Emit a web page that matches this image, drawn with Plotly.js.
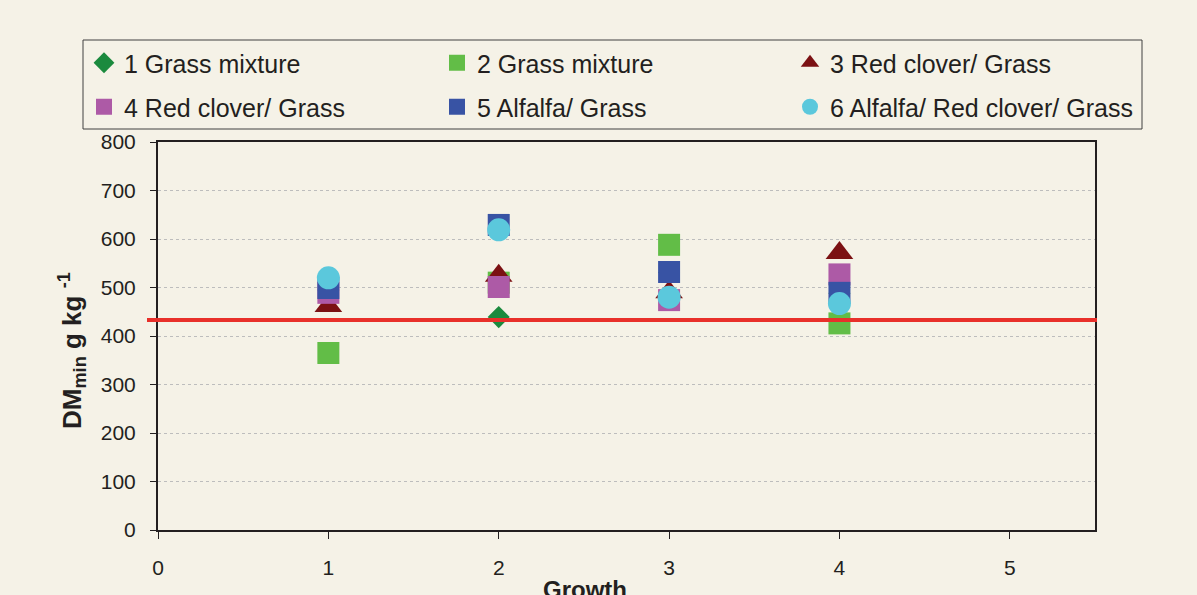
<!DOCTYPE html>
<html>
<head>
<meta charset="utf-8">
<script src="https://cdn.plot.ly/plotly-3.0.1.min.js"></script>
<style>html,body{margin:0;padding:0;background:#f5f2e7;}#chart{width:1197px;height:595px;}</style>
</head>
<body>
<div id="chart"></div>
<script>
var growth = [1, 2, 3, 4];
var seriesNames = ["1 Grass mixture", "2 Grass mixture", "3 Red clover/ Grass",
                   "4 Red clover/ Grass", "5 Alfalfa/ Grass", "6 Alfalfa/ Red clover/ Grass"];
var s1 = [495, 439, 531, 488];
var s2 = [365, 510, 588, 426];
var s3 = [462, 524, 490, 571];
var s4 = [489, 501, 474, 527];
var s5 = [499, 629, 532, 489];
var s6 = [520, 619, 480, 467];
var threshold = 433;
var xTicks = [0, 1, 2, 3, 4, 5];
var yTicks = [0, 100, 200, 300, 400, 500, 600, 700, 800];

var colors = ["#1b8a3e", "#62bd47", "#7b1113", "#ad5aa6", "#3853a4", "#5bc8dc"];
var symbols = ["diamond", "square", "triangle-up", "square", "square", "circle"];
var sizes = [17, 22, 24, 22, 22, 23];
var values = [s1, s2, s3, s4, s5, s6];

var traces = values.map(function (v, i) {
  return {
    x: growth, y: v, name: seriesNames[i], type: "scatter", mode: "markers",
    legend: i < 3 ? "legend" : "legend2",
    marker: {color: colors[i], symbol: symbols[i], size: sizes[i], line: {width: 0}}
  };
});

// plot area in px: left 158, right 1095, top 142, bottom 530
var W = 1197, H = 595, L = 158, R = 102, T = 142, B = 65;
var pw = W - L - R, ph = H - T - B;
function px2x(p) { return (p - L) / pw; }
function py2y(p) { return (H - B - p) / ph; }

var legendCommon = {
  orientation: "h", xanchor: "left", yanchor: "middle",
  entrywidth: 308, entrywidthmode: "pixels",
  font: {size: 25, color: "#231f20"},
  bgcolor: "rgba(0,0,0,0)", borderwidth: 0,
  traceorder: "normal"
};

var layout = {
  width: W, height: H,
  paper_bgcolor: "#f5f2e7", plot_bgcolor: "#f5f2e7",
  font: {family: "Liberation Sans, Arial, sans-serif", color: "#231f20"},
  margin: {l: L, r: R, t: T, b: B},
  showlegend: true,
  legend: Object.assign({}, legendCommon, {x: px2x(84), y: py2y(63)}),
  legend2: Object.assign({}, legendCommon, {x: px2x(84), y: py2y(107)}),
  xaxis: {
    range: [0, 5.5], tickvals: xTicks, ticktext: xTicks.map(String),
    showgrid: false, zeroline: false,
    showline: true, linecolor: "#231f20", linewidth: 2, mirror: true,
    ticks: "outside", ticklen: 7, tickcolor: "#231f20", tickwidth: 1,
    tickfont: {size: 21}, ticklabelstandoff: 11
  },
  yaxis: {
    range: [0, 800], tickvals: yTicks, ticktext: yTicks.map(String),
    showgrid: true, gridcolor: "#bdbdbd", griddash: "dot", gridwidth: 1,
    zeroline: false,
    showline: true, linecolor: "#231f20", linewidth: 2, mirror: true,
    ticks: "outside", ticklen: 6, tickcolor: "#231f20", tickwidth: 1,
    tickfont: {size: 21}, ticklabelstandoff: 10
  },
  annotations: [
    {text: "<b>Growth</b>", xref: "paper", yref: "paper", x: px2x(585), y: py2y(574),
     xanchor: "center", yanchor: "top", showarrow: false, font: {size: 24, color: "#231f20"}},
    {text: "<b>DM<sub>min</sub> g kg <sup>-1</sup></b>", xref: "paper", yref: "paper",
     x: px2x(72), y: py2y(351), xanchor: "center", yanchor: "middle", textangle: -90,
     showarrow: false, font: {size: 26, color: "#231f20"}}
  ],
  shapes: [
    {type: "rect", xref: "paper", yref: "paper", x0: px2x(83), x1: px2x(1142), y0: py2y(129), y1: py2y(40),
     line: {color: "#404040", width: 1}, fillcolor: "rgba(0,0,0,0)"},
    {type: "line", xref: "paper", yref: "y", x0: px2x(147), x1: px2x(1097), y0: threshold, y1: threshold,
     line: {color: "#e8302a", width: 4}}
  ]
};

Plotly.newPlot("chart", traces, layout, {displayModeBar: false, staticPlot: true});
</script>
</body>
</html>
